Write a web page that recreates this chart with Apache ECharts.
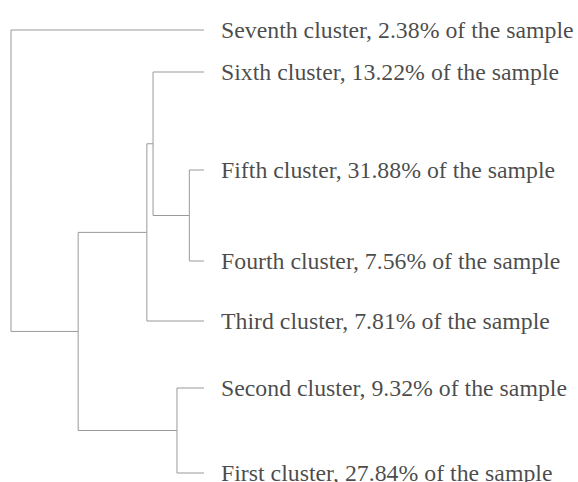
<!DOCTYPE html>
<html>
<head>
<meta charset="utf-8">
<script src="https://cdn.jsdelivr.net/npm/echarts@6/dist/echarts.min.js"></script>
<style>
  html, body { margin: 0; padding: 0; background: #fff; }
  #chart { width: 578px; height: 482px; }
</style>
</head>
<body>
<div id="chart"></div>
<script>
(function() {
  // leaves, top to bottom
  var leafNames = [
    'Seventh cluster, 2.38% of the sample',
    'Sixth cluster, 13.22% of the sample',
    'Fifth cluster, 31.88% of the sample',
    'Fourth cluster, 7.56% of the sample',
    'Third cluster, 7.81% of the sample',
    'Second cluster, 9.32% of the sample',
    'First cluster, 27.84% of the sample'
  ];
  var leafY = [30, 72, 170, 261, 321, 388, 473];

  // merges: [child a, child b]; leaves are 0..6, merged nodes get 7..
  var merges = [
    [2, 3],   // 7: fifth + fourth
    [1, 7],   // 8: sixth + (7)
    [5, 6],   // 9: second + first
    [8, 4],   // 10: (8) + third
    [10, 9],  // 11
    [0, 11]   // 12: root
  ];
  // merge distances (rescaled 0-25)
  var mergeHeights = [1.9, 6.6, 3.5, 7.4, 16.3, 25];

  var nodeY = leafY.slice();
  var nodeH = leafY.map(function(){return 0;});
  var links = [];
  merges.forEach(function(m, i) {
    var h = mergeHeights[i];
    var y = (nodeY[m[0]] + nodeY[m[1]]) / 2;
    nodeY.push(y); nodeH.push(h);
    [m[0], m[1]].forEach(function(c) {
      links.push({coords: [[nodeH[c], nodeY[c]], [h, nodeY[c]], [h, y]]});
    });
  });

  var leafPoints = leafNames.map(function(n, i){ return {name: n, value: [0, leafY[i]]}; });

  echarts.init(document.getElementById('chart'), null, {renderer:'svg'}).setOption({
    animation: false,
    backgroundColor: '#fff',
    grid: {left: 11, width: 193, top: 0, bottom: 0},
    xAxis: {type:'value', min:0, max:25, inverse:true, show:false},
    yAxis: {type:'value', min:0, max:482, inverse:true, show:false},
    series: [
      {
        type: 'lines', coordinateSystem: 'cartesian2d', polyline: true,
        lineStyle: {color:'#999999', width:1, opacity:1},
        data: links
      },
      {
        type: 'scatter', symbolSize: 0, data: leafPoints,
        label: {
          show: true, position: 'right', distance: 17,
          formatter: '{b}', color: '#1a1a1a',
          fontFamily: 'Liberation Serif', fontSize: 23.8
        }
      }
    ]
  });
})();
</script>
</body>
</html>
